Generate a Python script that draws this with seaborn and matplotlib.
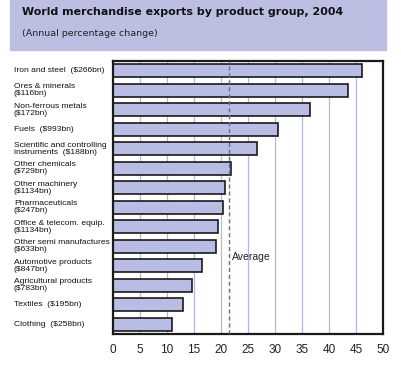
import matplotlib
matplotlib.use("Agg")
import matplotlib.pyplot as plt
import matplotlib.patches as mpatches
import matplotlib.transforms as mtransforms
from matplotlib.ticker import MultipleLocator
import pandas as pd
import seaborn as sns

products = ['Iron and steel  ($266bn)', 'Ores & minerals\n($116bn)',
            'Non-ferrous metals\n($172bn)', 'Fuels  ($993bn)',
            'Scientific and controlling\ninstruments  ($188bn)',
            'Other chemicals\n($729bn)', 'Other machinery\n($1134bn)',
            'Pharmaceuticals\n($247bn)', 'Office & telecom. equip.\n($1134bn)',
            'Other semi manufactures\n($633bn)', 'Automotive products\n($847bn)',
            'Agricultural products\n($783bn)', 'Textiles  ($195bn)',
            'Clothing  ($258bn)']
change = [46.1, 43.5, 36.4, 30.6, 26.6, 21.8, 20.7, 20.3, 19.4, 19.1,
          16.5, 14.7, 13.0, 11.0]
average = 21.4

df = pd.DataFrame({'product': products, 'change': change})

sns.set_style('white')
plt.rcParams['font.family'] = ['Liberation Sans', 'DejaVu Sans']

fig = plt.figure(figsize=(4.02, 3.68), dpi=100)
fig.patches.append(mpatches.Rectangle((10 / 402, 1 - 50 / 368), 376 / 402, 50 / 368,
                                      transform=fig.transFigure, color='#bcbfe2',
                                      zorder=0))
fig.text(22 / 402, 1 - 12 / 368, 'World merchandise exports by product group, 2004',
         fontsize=7.9, fontweight='bold', va='center', family='DejaVu Sans',
         color='#111111')
fig.text(22 / 402, 1 - 33 / 368, '(Annual percentage change)', fontsize=6.8,
         va='center', family='DejaVu Sans', color='#222222')

ax = fig.add_axes([113 / 402, 34 / 368, 270 / 402, 273 / 368])
sns.barplot(data=df, x='change', y='product', orient='h', color='#b9bce3',
            saturation=1, edgecolor='#1a1a1a', linewidth=1.2, width=0.66, ax=ax)

ax.set_xlim(0, 50)
ax.set_ylim(13.5, -0.5)
ax.xaxis.set_major_locator(MultipleLocator(5))
ax.xaxis.set_minor_locator(MultipleLocator(1))
for x in range(5, 50, 5):
    ax.axvline(x, color='#b3b6e0', lw=0.9, zorder=0)
ax.axvline(average, color='#5a66c8', lw=1.0, ls=(0, (3, 2)), zorder=3)
ax.text(average + 0.6, 9.55, 'Average', fontsize=7.5, va='center', color='#222222')

# category labels, left aligned near the figure edge
trans = mtransforms.blended_transform_factory(fig.transFigure, ax.transData)
for i, name in enumerate(products):
    ax.text(14 / 402, i, name, transform=trans, ha='left', va='center',
            fontsize=6.1, linespacing=0.95, clip_on=False, zorder=10,
            color='#111111')
ax.set_yticks([])

ax.set_xlabel('')
ax.set_ylabel('')
for s in ax.spines.values():
    s.set_linewidth(1.6)
    s.set_color('#1a1a1a')
ax.tick_params(axis='x', which='major', direction='inout', length=6, width=0.8,
               labelsize=8.5, pad=4, labelcolor='#222222')
ax.tick_params(axis='x', which='minor', direction='in', length=3, width=0.6)

fig.savefig('out.png', dpi=100)
